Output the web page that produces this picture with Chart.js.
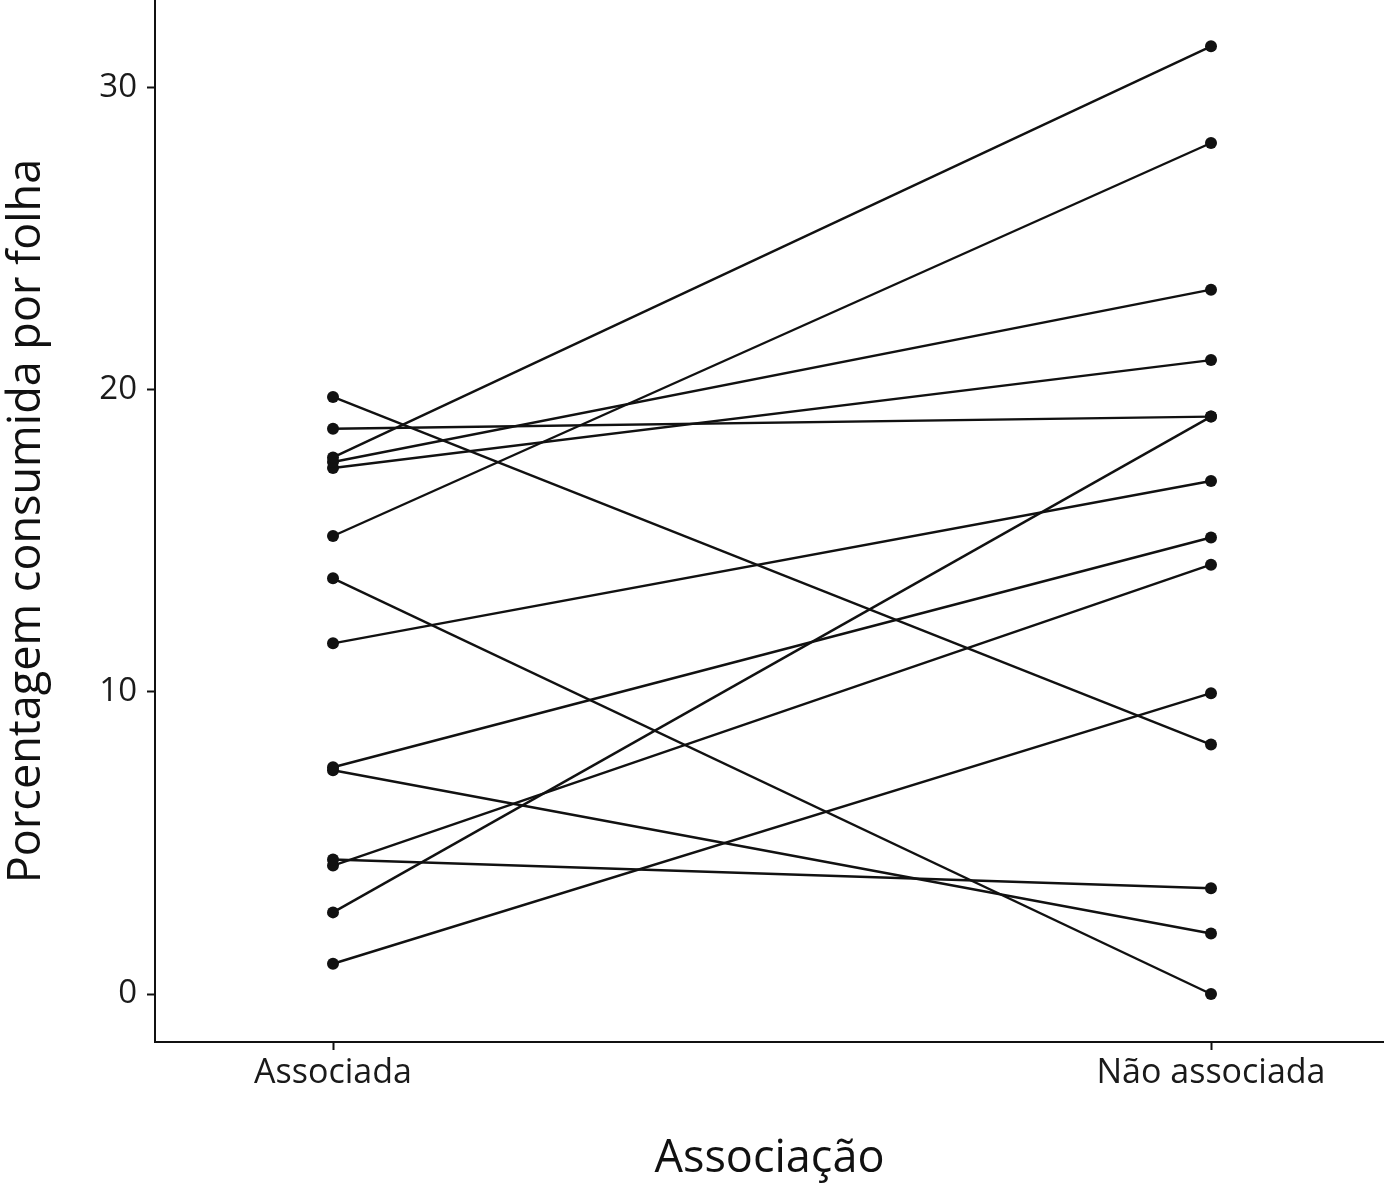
<!DOCTYPE html>
<html><head><meta charset="utf-8">
<script src="https://cdn.jsdelivr.net/npm/chart.js@4.4.1/dist/chart.umd.min.js"></script>
<style>html,body{margin:0;padding:0;background:#fff}#wrap{width:1384px;height:1188px}</style>
</head><body><div id="wrap"><canvas id="c" width="1384" height="1188"></canvas></div>
<script>
const categories = ['Associada', 'Não associada'];
const associada    = [19.75, 18.7, 17.75, 17.6, 17.4, 15.15, 13.75, 11.6, 7.5, 7.4, 4.45, 4.25, 2.7, 1.0];
const naoAssociada = [8.25, 19.1, 31.35, 23.3, 20.97, 28.15, 0.0, 16.97, 15.1, 2.0, 3.5, 14.2, 19.1, 9.95];
const yTicks = [0, 10, 20, 30];
const xTitle = 'Associação';
const yTitle = 'Porcentagem consumida por folha';

const FONT = 'Open Sans';
const datasets = associada.map((a, i) => ({
  data: [{x: 1, y: a}, {x: 2, y: naoAssociada[i]}],
  borderColor: '#111',
  backgroundColor: '#111',
  borderWidth: 2.4,
  pointRadius: 6,
  pointBorderWidth: 0,
  pointBackgroundColor: '#111',
  tension: 0
}));

function noPad(s) { s.paddingTop = 0; s.paddingBottom = 0; s.paddingLeft = 0; s.paddingRight = 0; }

new Chart(document.getElementById('c'), {
  type: 'line',
  data: { datasets },
  options: {
    responsive: false,
    animation: false,
    devicePixelRatio: 1,
    layout: { padding: 0, autoPadding: false },
    plugins: { legend: { display: false }, tooltip: { enabled: false } },
    scales: {
      x: {
        type: 'linear',
        min: 1 - 178 / 878,
        max: 2 + 173 / 878,
        afterBuildTicks: s => { s.ticks = [1, 2].map(v => ({ value: v })); },
        afterFit: s => { s.height = 146; noPad(s); },
        ticks: {
          color: '#1a1a1a', padding: 3,
          font: { family: FONT, size: 34 },
          callback: v => categories[v - 1],
          maxRotation: 0, autoSkip: false
        },
        grid: { drawOnChartArea: false, drawTicks: true, tickLength: 8, tickColor: '#111', tickWidth: 2 },
        border: { display: true, color: '#111', width: 2 },
        title: { display: true, text: xTitle, color: '#111', font: { family: FONT, size: 45 }, padding: { top: 0, bottom: 2 } }
      },
      y: {
        type: 'linear',
        min: -48 / 30.23,
        max: 994 / 30.23,
        afterBuildTicks: s => { s.ticks = yTicks.map(v => ({ value: v })); },
        afterFit: s => { s.width = 155; noPad(s); },
        ticks: { color: '#1a1a1a', padding: 10, font: { family: FONT, size: 33 } },
        grid: { drawOnChartArea: false, drawTicks: true, tickLength: 8, tickColor: '#111', tickWidth: 2 },
        border: { display: true, color: '#111', width: 2 },
        title: { display: true, text: yTitle, color: '#111', font: { family: FONT, size: 45 }, padding: { top: 0, bottom: 0 } }
      }
    }
  }
});
</script></body></html>
